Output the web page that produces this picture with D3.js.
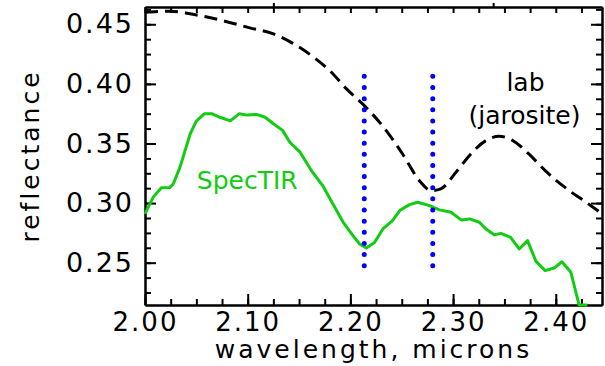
<!DOCTYPE html>
<html>
<head>
<meta charset="utf-8">
<script src="https://cdn.jsdelivr.net/npm/d3@7"></script>
<style>
  body { margin: 0; background: #fff; }
  svg { display: block; }
</style>
</head>
<body>
<div id="chart"></div>
<script>
// lab spectrum (jarosite), dashed black
const labWave = [2.000, 2.024, 2.049, 2.076, 2.102, 2.125, 2.144, 2.164, 2.180, 2.196,
  2.215, 2.232, 2.251, 2.267, 2.279, 2.288, 2.303, 2.316, 2.332, 2.345, 2.358, 2.374,
  2.390, 2.413, 2.429, 2.445];
const labRefl = [0.460, 0.461, 0.458, 0.453, 0.447, 0.442, 0.434, 0.4225, 0.411, 0.396,
  0.3805, 0.364, 0.341, 0.319, 0.3105, 0.312, 0.326, 0.340, 0.3525, 0.356, 0.3525, 0.341,
  0.327, 0.3105, 0.301, 0.291];

// SpecTIR spectrum, green
const specWave = [2.000, 2.008, 2.016, 2.024, 2.0275, 2.034, 2.039, 2.044, 2.050, 2.058,
  2.065, 2.073, 2.083, 2.092, 2.099, 2.1085, 2.117, 2.125, 2.134, 2.141, 2.151, 2.162,
  2.173, 2.183, 2.193, 2.2025, 2.209, 2.2155, 2.2235, 2.2316, 2.241, 2.248, 2.2575,
  2.2656, 2.277, 2.2867, 2.298, 2.3078, 2.316, 2.3256, 2.332, 2.340, 2.3466, 2.356,
  2.3644, 2.3725, 2.3807, 2.3897, 2.3984, 2.406, 2.4147, 2.4227, 2.4308];
const specRefl = [0.291, 0.305, 0.3128, 0.313, 0.316, 0.330, 0.344, 0.358, 0.3687, 0.375,
  0.375, 0.372, 0.369, 0.375, 0.3738, 0.3744, 0.372, 0.3666, 0.361, 0.351, 0.3427, 0.3273,
  0.3147, 0.2993, 0.2839, 0.2727, 0.2657, 0.2623, 0.267, 0.2783, 0.2853, 0.2937, 0.2987,
  0.3007, 0.2979, 0.2943, 0.2923, 0.2859, 0.2867, 0.2839, 0.2783, 0.2735, 0.2746, 0.2713,
  0.2615, 0.2685, 0.2511, 0.2433, 0.2455, 0.2508, 0.2419, 0.2145, 0.2145];

// band markers (blue dotted)
const bandCenters = [2.2135, 2.2802];
const bandRange = [0.2475, 0.4063];

const xDomain = [2.0, 2.445];
const yDomain = [0.2145, 0.4645];
const xTicks = [2.0, 2.1, 2.2, 2.3, 2.4];
const yTicks = [0.25, 0.30, 0.35, 0.40, 0.45];
const topMarks = [2.125, 2.339];

const W = 605, H = 366;
const margin = { top: 7, right: 3, bottom: 61, left: 145 };
const width = W - margin.left - margin.right;
const height = H - margin.top - margin.bottom;
const FONT = "'DejaVu Sans', sans-serif";
const GREEN = '#11cc11';

const svg = d3.select('#chart').append('svg')
  .attr('width', W).attr('height', H);
const g = svg.append('g')
  .attr('transform', `translate(${margin.left},${margin.top})`);

const x = d3.scaleLinear().domain(xDomain).range([0, width]);
const y = d3.scaleLinear().domain(yDomain).range([height, 0]);

const xMinor = d3.range(2.0, 2.446, 0.025);
const yMinor = d3.range(0.225, 0.464, 0.0125);

function styleAxis(sel) {
  sel.selectAll('path').attr('stroke', '#000').attr('stroke-width', 2);
  sel.selectAll('line').attr('stroke', '#000').attr('stroke-width', 2);
}

// minor ticks, all four sides
g.append('g').attr('transform', `translate(0,${height})`)
  .call(d3.axisBottom(x).tickValues(xMinor).tickFormat('').tickSizeInner(-6).tickSizeOuter(0))
  .call(styleAxis);
g.append('g')
  .call(d3.axisTop(x).tickValues(xMinor).tickFormat('').tickSizeInner(-6).tickSizeOuter(0))
  .call(styleAxis);
g.append('g')
  .call(d3.axisLeft(y).tickValues(yMinor).tickFormat('').tickSizeInner(-6).tickSizeOuter(0))
  .call(styleAxis);
g.append('g').attr('transform', `translate(${width},0)`)
  .call(d3.axisRight(y).tickValues(yMinor).tickFormat('').tickSizeInner(-6).tickSizeOuter(0))
  .call(styleAxis);

// major ticks + labels
const xAxis = g.append('g').attr('transform', `translate(0,${height})`)
  .call(d3.axisBottom(x).tickValues(xTicks).tickFormat(d3.format('.2f'))
    .tickSizeInner(-11).tickSizeOuter(0).tickPadding(8))
  .call(styleAxis);
xAxis.selectAll('text')
  .attr('fill', '#000')
  .style('font-family', FONT)
  .style('font-size', '26px')
  .style('letter-spacing', '2px');

const yAxis = g.append('g')
  .call(d3.axisLeft(y).tickValues(yTicks).tickFormat(d3.format('.2f'))
    .tickSizeInner(-11).tickSizeOuter(0).tickPadding(11))
  .call(styleAxis);
yAxis.selectAll('text')
  .attr('fill', '#000')
  .style('font-family', FONT)
  .style('font-size', '27px')
  .style('letter-spacing', '2px');

g.append('g').attr('transform', `translate(${width},0)`)
  .call(d3.axisRight(y).tickValues(yTicks).tickFormat('').tickSizeInner(-11).tickSizeOuter(0))
  .call(styleAxis);

// small outward marks on the top axis
g.append('g')
  .call(d3.axisTop(x).tickValues(topMarks).tickFormat('').tickSizeInner(4).tickSizeOuter(0))
  .call(styleAxis);

// axis titles
g.append('text')
  .attr('x', width / 2)
  .attr('y', height + 53)
  .attr('text-anchor', 'middle')
  .style('font-family', FONT)
  .style('font-size', '25px')
  .style('letter-spacing', '3px')
  .text('wavelength, microns');

g.append('text')
  .attr('transform', `translate(${-106},${height / 2}) rotate(-90)`)
  .attr('text-anchor', 'middle')
  .style('font-family', FONT)
  .style('font-size', '25px')
  .style('letter-spacing', '3px')
  .text('reflectance');

// lab curve
const labLine = d3.line()
  .curve(d3.curveMonotoneX)
  .x((d, i) => x(labWave[i]))
  .y((d, i) => y(labRefl[i]));
g.append('path')
  .datum(labWave)
  .attr('fill', 'none')
  .attr('stroke', '#000')
  .attr('stroke-width', 3)
  .attr('stroke-dasharray', '13 7')
  .attr('d', labLine);

// SpecTIR curve
const specLine = d3.line()
  .x((d, i) => x(specWave[i]))
  .y((d, i) => y(specRefl[i]));
g.append('path')
  .datum(specWave)
  .attr('fill', 'none')
  .attr('stroke', GREEN)
  .attr('stroke-width', 3)
  .attr('stroke-linejoin', 'round')
  .attr('d', specLine);

// band markers
const bandLen = y(bandRange[0]) - y(bandRange[1]);
g.selectAll('.band').data(bandCenters).enter()
  .append('line')
  .attr('class', 'band')
  .attr('x1', d => x(d)).attr('x2', d => x(d))
  .attr('y1', y(bandRange[1])).attr('y2', y(bandRange[0]))
  .attr('stroke', '#0000ff')
  .attr('stroke-width', 5)
  .attr('stroke-linecap', 'round')
  .attr('stroke-dasharray', `0 ${bandLen / 17}`);

// labels
g.append('text')
  .attr('x', x(2.0505))
  .attr('y', y(0.3115))
  .attr('fill', GREEN)
  .style('font-family', FONT)
  .style('font-size', '25px')
  .text('SpecTIR');

g.append('text')
  .attr('x', x(2.3705))
  .attr('y', y(0.3940))
  .attr('text-anchor', 'middle')
  .style('font-family', FONT)
  .style('font-size', '25px')
  .text('lab');

g.append('text')
  .attr('x', x(2.3695))
  .attr('y', y(0.3663))
  .attr('text-anchor', 'middle')
  .style('font-family', FONT)
  .style('font-size', '25px')
  .text('(jarosite)');
</script>
</body>
</html>
